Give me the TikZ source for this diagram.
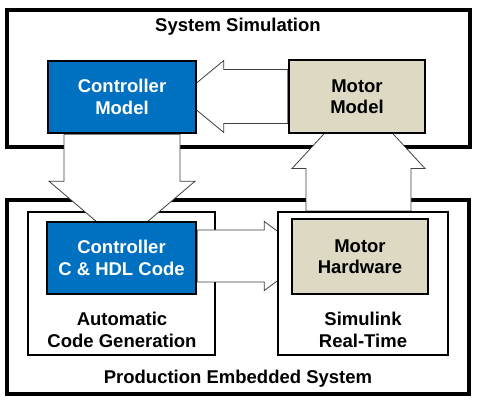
\documentclass[tikz,border=0pt]{standalone}
\usepackage{fontspec}
\setmainfont{Liberation Sans}
\usepackage{tikz}
\usetikzlibrary{calc}

\definecolor{ctrlblue}{RGB}{0,112,192}
\definecolor{motorbeige}{RGB}{221,217,195}
\definecolor{arrowgray}{RGB}{64,64,64}

\pgfdeclarelayer{frames}
\pgfdeclarelayer{links}
\pgfsetlayers{frames,links,main}

\begin{document}
\begin{tikzpicture}[x=1pt, y=1pt,
    every node/.style={font=\fontsize{18.5}{21.5}\selectfont\bfseries},
    outerframe/.style={rectangle, draw=black, line width=3.5pt, fill=white,
        inner sep=0pt},
    innerframe/.style={rectangle, draw=black, line width=2pt, fill=white,
        inner sep=0pt, minimum width=#1, minimum height=143pt},
    ctrlbox/.style={rectangle, draw=black, line width=2.5pt, fill=ctrlblue,
        text=white, align=center, inner sep=0pt},
    motorbox/.style={rectangle, draw=black, line width=2.5pt, fill=motorbeige,
        text=black, align=center, inner sep=0pt},
    caption/.style={align=center, inner sep=0pt},
    blockarrow/.style={draw=arrowgray, fill=white, line width=0.8pt,
        line join=miter}
]
\useasboundingbox (0,0) rectangle (480,406);
% outer frames
\begin{pgfonlayer}{frames}
\node[outerframe, minimum width=463pt, minimum height=137pt] (sim)
    at (238.5,327.5) {};
\node[outerframe, minimum width=462pt, minimum height=194pt] (prod)
    at (238,109) {};
\node[innerframe=187pt] (auto) at (121.5,122.5) {};
\end{pgfonlayer}
\node[caption] (simtitle)  at (238,379) {System Simulation};
\node[caption] (prodtitle) at (238,27)  {Production Embedded System};
\node[caption] (autotitle) at (122,76)  {Automatic\\Code Generation};
% real-time frame covers the arrow tip
\node[innerframe=170pt] (rt) at (363,122.5) {};
\node[caption] (rttitle) at (363,76) {Simulink\\Real-Time};
% model and code blocks
\node[ctrlbox, minimum width=148pt, minimum height=72pt] (ctrl)
    at (122,309) {Controller\\Model};
\node[motorbox, minimum width=136pt, minimum height=73pt] (motor)
    at (357,309.5) {Motor\\Model};
\node[ctrlbox, minimum width=149pt, minimum height=72pt] (code)
    at (121.5,148) {Controller\\C \& HDL Code};
\node[motorbox, minimum width=136pt, minimum height=75pt] (hw)
    at (360,149.5) {Motor\\Hardware};
% block arrows
\coordinate (upbase) at ([xshift=-4.5pt]rt.north);
\begin{pgfonlayer}{links}
\draw[blockarrow] ([yshift=27pt]motor.west) -- ++(-64,0) -- ++(0,9)
    -- ++(-43.5,-36) -- ++(43.5,-36) -- ++(0,9)
    -- ([yshift=-27pt]motor.west) -- cycle;
\draw[blockarrow] ([xshift=-58pt]ctrl.south) -- ++(0,-47) -- ++(-15,0)
    -- ++(73,-62) -- ++(73,62) -- ++(-15,0)
    -- ([xshift=58pt]ctrl.south) -- cycle;
\draw[blockarrow] ([xshift=-52.5pt]upbase) -- ++(0,42.5) -- ++(-14,0)
    -- ++(66.5,72) -- ++(66.5,-72) -- ++(-14,0)
    -- ([xshift=52.5pt]upbase) -- cycle;
\draw[blockarrow] ([yshift=28pt]code.east) -- ++(67,0) -- ++(0,8.5)
    -- ++(47,-34.5) -- ++(-47,-34.5) -- ++(0,8.5)
    -- ([yshift=-24pt]code.east) -- cycle;
\end{pgfonlayer}
\end{tikzpicture}
\end{document}
